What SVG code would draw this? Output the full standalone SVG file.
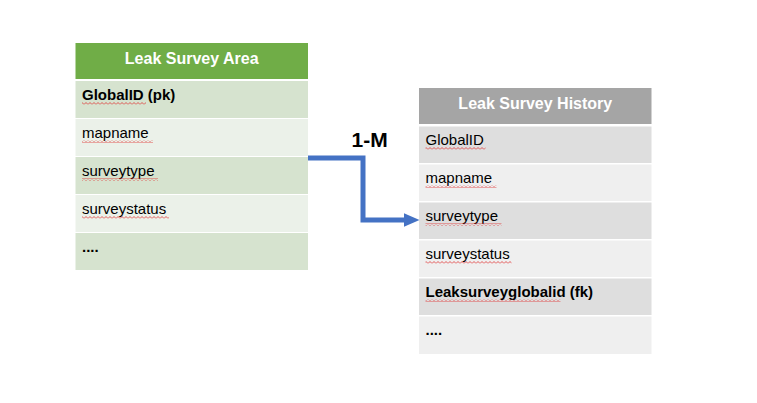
<svg xmlns="http://www.w3.org/2000/svg" width="757" height="403" viewBox="0 0 757 403">
<style>
.t{font-family:"Liberation Sans",Arial,sans-serif;font-size:15px;fill:#000}
.b{font-weight:bold}
.h{font-family:"Liberation Sans",Arial,sans-serif;font-size:16px;font-weight:bold;fill:#fff;text-anchor:middle}
.ga{fill:#D6E3CF}.gb{fill:#EBF1E9}
.ya{fill:#DEDEDE}.yb{fill:#EFEFEF}
.sq{fill:url(#wave)}
</style>
<defs>
<pattern id="wave" x="0" y="0" width="4" height="3" patternUnits="userSpaceOnUse">
<polyline points="0,2.5 2,0.5 4,2.5" fill="none" stroke="#E03030" stroke-width="0.8"/>
</pattern>
<marker id="arr" markerWidth="16" markerHeight="14" refX="2" refY="6.7" orient="auto" markerUnits="userSpaceOnUse" viewBox="0 0 16 14">
<path d="M0,0 L15.5,6.7 L0,13.4 z" fill="#4472C4"/>
</marker>
</defs>
<rect width="757" height="403" fill="#fff"/>
<g id="leak-survey-area">
<rect x="75.5" y="43" width="232.5" height="36" fill="#70AD47"/>
<text class="h" x="191.7" y="64">Leak Survey Area</text>
<rect class="ga" x="75.5" y="81" width="232.5" height="37"/>
<rect class="gb" x="75.5" y="119" width="232.5" height="37"/>
<rect class="ga" x="75.5" y="157" width="232.5" height="37"/>
<rect class="gb" x="75.5" y="195" width="232.5" height="37"/>
<rect class="ga" x="75.5" y="233" width="232.5" height="37"/>
<text class="t b" x="82" y="100">GlobalID (pk)</text>
<text class="t" x="82" y="138">mapname</text>
<text class="t" x="82" y="176">surveytype</text>
<text class="t" x="82" y="214">surveystatus</text>
<text class="t b" x="82" y="252">....</text>
<rect class="sq" x="82" y="102" width="64" height="3"/>
<rect class="sq" x="82" y="140" width="71" height="3"/>
<rect class="sq" x="82" y="178" width="76" height="3"/>
<rect class="sq" x="82" y="216" width="87" height="3"/>
</g>
<g id="leak-survey-history">
<rect x="419" y="88" width="232.5" height="36" fill="#A5A5A5"/>
<text class="h" x="535.3" y="109">Leak Survey History</text>
<rect class="ya" x="419" y="126.5" width="232.5" height="36.5"/>
<rect class="yb" x="419" y="164.5" width="232.5" height="36.5"/>
<rect class="ya" x="419" y="202.5" width="232.5" height="36.5"/>
<rect class="yb" x="419" y="240.5" width="232.5" height="36.5"/>
<rect class="ya" x="419" y="278.5" width="232.5" height="36.5"/>
<rect class="yb" x="419" y="316.5" width="232.5" height="37.5"/>
<text class="t" x="425.5" y="145">GlobalID</text>
<text class="t" x="425.5" y="183">mapname</text>
<text class="t" x="425.5" y="221">surveytype</text>
<text class="t" x="425.5" y="259">surveystatus</text>
<text class="t b" x="425.5" y="297">Leaksurveyglobalid (fk)</text>
<text class="t b" x="425.5" y="335">....</text>
<rect class="sq" x="425.5" y="147" width="60" height="3"/>
<rect class="sq" x="425.5" y="185" width="71" height="3"/>
<rect class="sq" x="425.5" y="223" width="76" height="3"/>
<rect class="sq" x="425.5" y="261" width="86" height="3"/>
<rect class="sq" x="425.5" y="299" width="135" height="3"/>
</g>
<g id="connectors">
<polyline points="308,158 363,158 363,220 406,220" fill="none" stroke="#4472C4" stroke-width="5" marker-end="url(#arr)"/>
<text class="t b" x="351.5" y="146.5" style="font-size:21px">1-M</text>
</g>
</svg>
